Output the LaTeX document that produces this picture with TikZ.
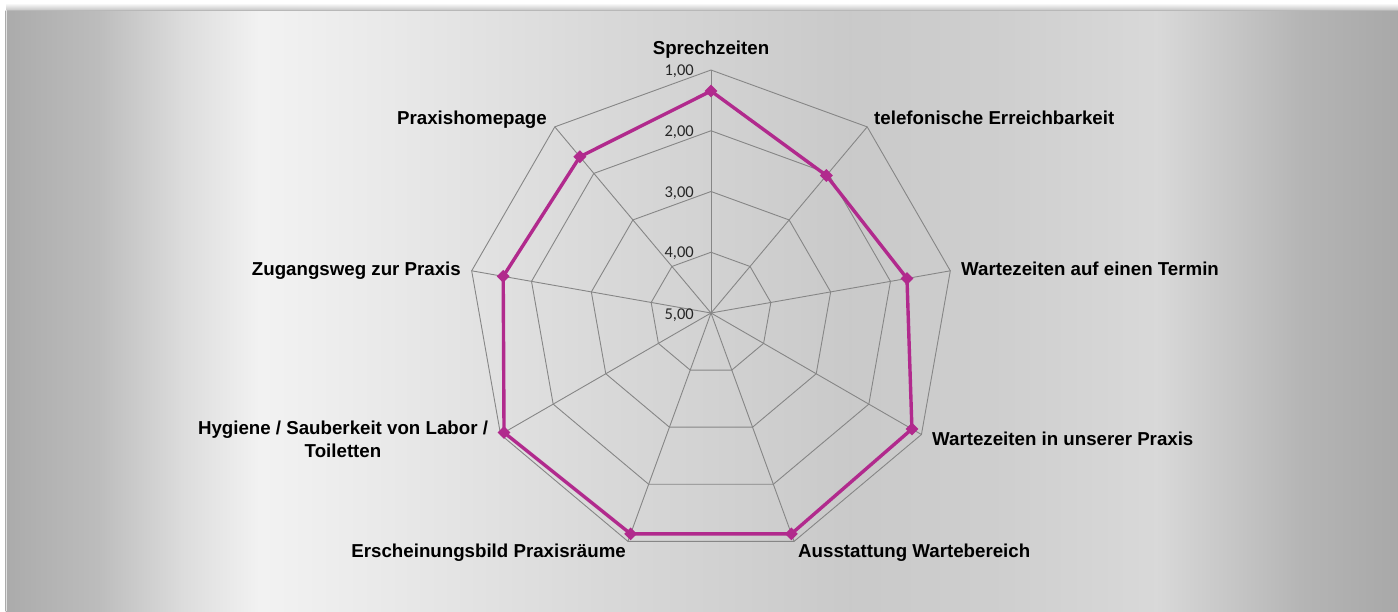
\documentclass[tikz,border=0pt]{standalone}
\usepackage{fontspec}
\setmainfont{Liberation Sans}
\newfontfamily\tickfont{Carlito}
\usetikzlibrary{shapes.geometric}
\definecolor{gridc}{RGB}{134,134,134}
\definecolor{datac}{RGB}{177,42,141}
\begin{document}
\begin{tikzpicture}[x=1pt,y=-1pt,
  lab/.style={font=\fontsize{18.7}{22.3}\selectfont\bfseries, inner sep=0pt, text=black},
  ticklab/.style={font=\tickfont\fontsize{16.5}{19}\selectfont, text=black!85, inner sep=0pt, anchor=base east},
  gridline/.style={draw=gridc, line width=0.9pt},
  datamark/.style={diamond, fill=datac, minimum width=13pt, minimum height=13pt, inner sep=0pt},
  dataline/.style={draw=datac, line width=3.4pt, line join=round}]
% background
\fill[white] (0,0) rectangle (1398,611);
\useasboundingbox (0,0) rectangle (1398,611);
\foreach \xa/\ca/\xb/\cb in {6/67/100/74, 100/74/180/86, 180/86/260/95, 260/95/400/91, 400/91/600/85, 600/85/850/79, 850/79/1000/81, 1000/81/1157/85, 1157/85/1300/71, 1300/71/1398/66}
  \shade[left color=white!\ca!black, right color=white!\cb!black] (\xa-0.4,10) rectangle (\xb+0.4,611);
\shade[top color=white, bottom color=black!22] (6,3) rectangle (1398,10);
\draw[black!28, line width=1pt] (6,10.5) -- (1398,10.5);
\draw[black!12, line width=0.8pt] (6,10) -- (6,611);
% grid
\coordinate (C) at (711,313);
\foreach \k in {1,...,4}
  \draw[gridline] (711,{313-60.75*\k}) \foreach \i in {1,...,8}{ -- ({711+60.75*\k*cos(90-40*\i)},{313-60.75*\k*sin(90-40*\i)}) } -- cycle;
\foreach \i in {0,...,8}{
  \coordinate (o\i) at ({711+243*cos(90-40*\i)},{313-243*sin(90-40*\i)});
  \draw[gridline] (C) -- (o\i);
}
% tick labels
\node[ticklab] (t1) at (694,75.5) {1,00};
\node[ticklab] (t2) at (694,136.25) {2,00};
\node[ticklab] (t3) at (694,197) {3,00};
\node[ticklab] (t4) at (694,257.75) {4,00};
\node[ticklab] (t5) at (694,319) {5,00};
% data
\foreach \i/\r in {0/222,1/179.5,2/199,3/232,4/235,5/235,6/239,7/211,8/204}
  \coordinate (d\i) at ({711+\r*cos(90-40*\i)},{313-\r*sin(90-40*\i)});
\draw[dataline] (d0) -- (d1) -- (d2) -- (d3) -- (d4) -- (d5) -- (d6) -- (d7) -- (d8) -- cycle;
\foreach \i in {0,...,8}
  \node[datamark] (m\i) at (d\i) {};
% category labels
\node[lab, anchor=base] (L0) at (711,54) {Sprechzeiten};
\node[lab, anchor=base west] (L1) at (874,124) {telefonische Erreichbarkeit};
\node[lab, anchor=base west] (L2) at (961,275) {Wartezeiten auf einen Termin};
\node[lab, anchor=base west] (L3) at (932,445) {Wartezeiten in unserer Praxis};
\node[lab, anchor=base west] (L4) at (798,557) {Ausstattung Wartebereich};
\node[lab, anchor=base east] (L5) at (626,557) {Erscheinungsbild Praxisräume};
\node[lab, anchor=base, align=center] (L6) at (343,457) {Hygiene / Sauberkeit von Labor /\\Toiletten};
\node[lab, anchor=base east] (L7) at (461,275) {Zugangsweg zur Praxis};
\node[lab, anchor=base east] (L8) at (547,124) {Praxishomepage};
\end{tikzpicture}
\end{document}
